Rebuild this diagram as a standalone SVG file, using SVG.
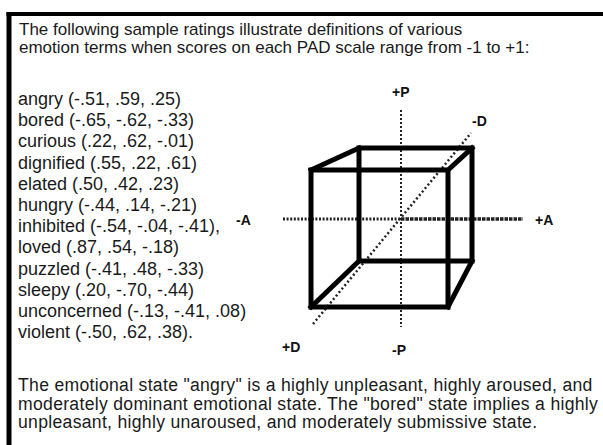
<svg xmlns="http://www.w3.org/2000/svg" width="603" height="445" viewBox="0 0 603 445">
<style>
.t{font-family:"Liberation Sans",Arial,sans-serif;fill:#1a1a1a}
.title{font-size:17px}
.list{font-size:18px}
.body{font-size:17.6px;letter-spacing:0.3px}
.lbl{font-family:"Liberation Sans",Arial,sans-serif;font-size:14px;font-weight:bold;fill:#111}
.edge{stroke:#000;stroke-width:5;fill:none;stroke-linecap:square;stroke-linejoin:miter}
.dot{stroke:#222;fill:none}
</style>
<rect width="603" height="445" fill="#fff"/>
<g id="frame">
<rect x="6.5" y="12" width="596.5" height="4" fill="#000"/>
<rect x="6.5" y="12" width="5" height="433" fill="#000"/>
</g>
<g id="title" class="t title">
<text x="19" y="35">The following sample ratings illustrate definitions of various</text>
<text x="19" y="53">emotion terms when scores on each PAD scale range from -1 to +1:</text>
</g>
<g id="ratings" class="t list">
<text x="18" y="105">angry (-.51, .59, .25)</text>
<text x="18" y="126.2">bored (-.65, -.62, -.33)</text>
<text x="18" y="147.4">curious (.22, .62, -.01)</text>
<text x="18" y="168.6">dignified (.55, .22, .61)</text>
<text x="18" y="189.8">elated (.50, .42, .23)</text>
<text x="18" y="211">hungry (-.44, .14, -.21)</text>
<text x="18" y="232.2">inhibited (-.54, -.04, -.41),</text>
<text x="18" y="253.4">loved (.87, .54, -.18)</text>
<text x="18" y="274.6">puzzled (-.41, .48, -.33)</text>
<text x="18" y="295.8">sleepy (.20, -.70, -.44)</text>
<text x="18" y="317">unconcerned (-.13, -.41, .08)</text>
<text x="18" y="338.2">violent (-.50, .62, .38).</text>
</g>
<g id="connectors">
<line class="dot" x1="401" y1="110" x2="401" y2="327" stroke-width="2" stroke-dasharray="2 2"/>
<line class="dot" x1="283" y1="219" x2="401" y2="219" stroke-width="3" stroke-dasharray="2 1.6"/>
<line class="dot" x1="401" y1="219" x2="523" y2="219" stroke-width="3.5" stroke-dasharray="3.5 1"/>
<line class="dot" x1="313" y1="324" x2="471" y2="133" stroke-width="2.5" stroke-dasharray="2 2.5"/>
</g>
<g id="cube">
<rect class="edge" x="359" y="148" width="113" height="113"/>
<rect class="edge" x="311" y="170" width="137" height="137"/>
<line class="edge" x1="311" y1="170" x2="359" y2="148"/>
<line class="edge" x1="448" y1="170" x2="472" y2="148"/>
<line class="edge" x1="311" y1="307" x2="359" y2="261"/>
<line class="edge" x1="448" y1="307" x2="472" y2="261"/>
</g>
<g id="label-plusP"><text class="lbl" x="392" y="97">+P</text></g>
<g id="label-minusP"><text class="lbl" x="392" y="355">-P</text></g>
<g id="label-plusA"><text class="lbl" x="535" y="225">+A</text></g>
<g id="label-minusA"><text class="lbl" x="236" y="225">-A</text></g>
<g id="label-plusD"><text class="lbl" x="282" y="352">+D</text></g>
<g id="label-minusD"><text class="lbl" x="472" y="126">-D</text></g>
<g id="summary" class="t body">
<text x="18" y="391">The emotional state "angry"  is a highly unpleasant, highly aroused, and</text>
<text x="18" y="409.5">moderately dominant emotional state. The "bored" state implies a highly</text>
<text x="18" y="428">unpleasant, highly unaroused, and moderately submissive state.</text>
</g>
</svg>
